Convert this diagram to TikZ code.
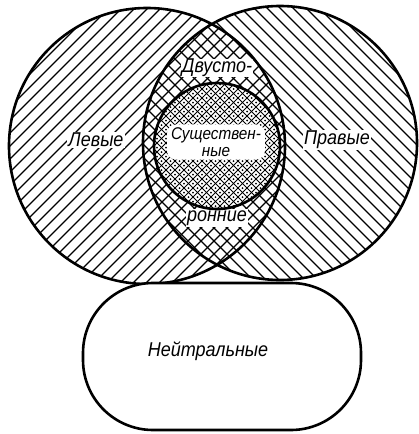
\documentclass[tikz,border=0pt]{standalone}
\usepackage{fontspec}
\newfontfamily\lab{Liberation Sans}[FakeStretch=0.9]
\begin{document}
\begin{tikzpicture}[x=1pt,y=-1pt,
  outline/.style={line width=2.6pt},
  hatch/.style={line width=1.1pt},
  finehatch/.style={line width=0.9pt},
  lbl/.style={font=\lab\itshape\fontsize{20}{20}\selectfont, inner sep=1.5pt},
  lblw/.style={lbl, fill=white}]
\useasboundingbox (0,0) rectangle (418,434);
\fill[white] (0,0) rectangle (418,434);
\coordinate (cL) at (147,146);
\coordinate (cR) at (280,143);
\coordinate (cS) at (217,146);
% left hatching "/"
\begin{scope}
  \clip (cL) circle[radius=138pt];
  \foreach \k in {0,13,...,740} \draw[hatch] (\k,0) -- ++(-440,440);
\end{scope}
% right hatching "\"
\begin{scope}
  \clip (cR) circle[radius=137pt];
  \foreach \k in {-300,-287,...,440} \draw[hatch] (\k,0) -- ++(440,440);
\end{scope}
% inner circle: fine crosshatch with dots
\fill[white] (cS) circle[radius=63pt];
\begin{scope}
  \clip (cS) circle[radius=63pt];
  \foreach \k in {264,273,...,480} \draw[finehatch] (\k,0) -- ++(-440,440);
  \foreach \k in {-40,-31,...,190} \draw[finehatch] (\k,0) -- ++(440,440);
  \foreach \a in {268.5,277.5,...,470}
    \foreach \b in {-35.5,-26.5,...,185}
      \fill ({(\a+\b)/2},{(\a-\b)/2}) circle[radius=1.0pt];
\end{scope}
% labels
\node[lblw] (left) at (96,140) {Левые};
\node[lblw] (right) at (337,140) {Правые};
\node[lbl, fill=white, inner sep=0.5pt] (two1) at (217,68) {Двусто-};
\node[lblw] (two2) at (217,218) {ронние};
\node[lbl, font=\lab\itshape\fontsize{17}{17}\selectfont, fill=white, rounded corners=9pt,
      inner xsep=4pt, inner ysep=3pt, align=center] (ess) at (216,142)
  {Существен-\\ные};
% outlines
\draw[outline] (cL) circle[radius=138pt];
\draw[outline] (cR) circle[radius=137pt];
\draw[outline] (cS) circle[radius=63pt];
\draw[outline, fill=white, rounded corners=70pt] (83,283) rectangle (361,430);
\node[lbl] (neutral) at (208,351) {Нейтральные};
\end{tikzpicture}
\end{document}
